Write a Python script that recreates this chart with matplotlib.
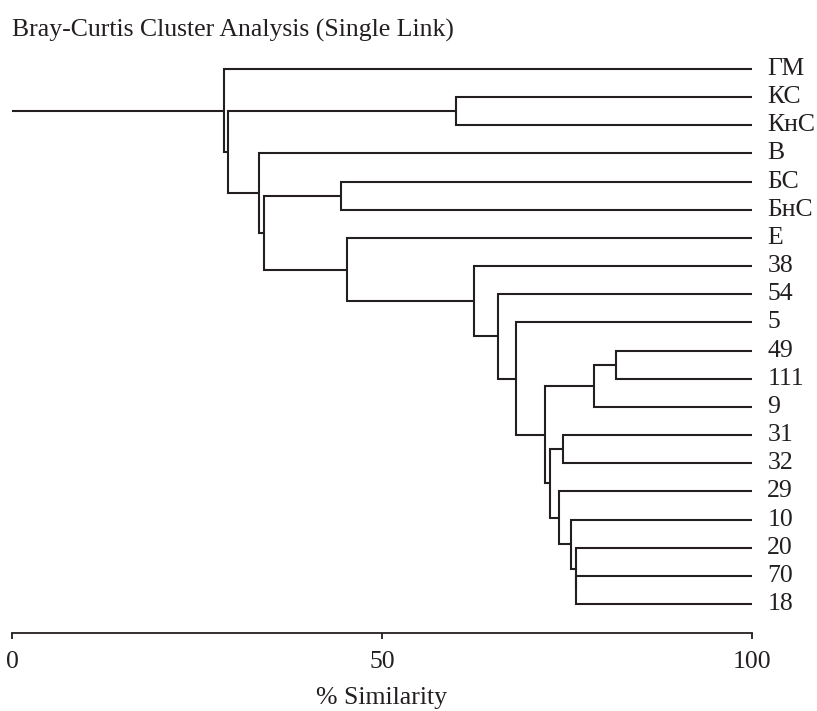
import matplotlib
import matplotlib.pyplot as plt

matplotlib.use('Agg')

plt.rcParams['font.family'] = ['Liberation Serif', 'DejaVu Serif']

# Leaf labels, top to bottom
leaves = ['ГМ', 'КС', 'КнС', 'В', 'БС', 'БнС', 'Е', '38', '54', '5',
          '49', '111', '9', '31', '32', '29', '10', '20', '70', '18']

# Merges: (child a, child b, % similarity); ids >= len(leaves) are clusters
merge_a = [10, 20, 18, 17, 16, 13, 15, 25, 21, 9, 8, 7, 1, 6, 4, 34, 3, 32, 0]
merge_b = [11, 12, 19, 22, 23, 14, 24, 26, 27, 28, 29, 30, 2, 31, 5, 33, 35, 36, 37]
merge_sim = [81.6, 78.6, 76.2, 76.2, 75.5, 74.5, 73.9, 72.7, 72.0, 68.1,
             65.7, 62.4, 60.0, 45.3, 44.5, 34.1, 33.4, 29.2, 28.6]

line_color = '#231f20'
lw = 1.5
fs = 18.5

fig = plt.figure(figsize=(8.17, 7.11), dpi=100)
W, H = 817, 711
# axes: x 0..100 spans px 12..752, y spans px 50..633
ax = fig.add_axes([12 / W, 1 - 633 / H, 740 / W, (633 - 50) / H])

n = len(leaves)
node_x = {i: 100.0 for i in range(n)}
node_y = {i: float(i) for i in range(n)}

for k, (a, b, s) in enumerate(zip(merge_a, merge_b, merge_sim)):
    nid = n + k
    ax.plot([node_x[a], s, s, node_x[b]], [node_y[a], node_y[a], node_y[b], node_y[b]],
            color=line_color, lw=lw, solid_joinstyle='miter', solid_capstyle='butt')
    node_x[nid] = s
    node_y[nid] = (node_y[a] + node_y[b]) / 2

# root stem
root = n + len(merge_sim) - 1
ax.plot([0, node_x[root]], [node_y[root], node_y[root]], color=line_color, lw=lw,
        solid_capstyle='butt')

# leaf labels
for i, name in enumerate(leaves):
    ax.annotate(name, (100, i), xytext=(11, 0), textcoords='offset points',
                va='center', ha='left', fontsize=fs, color=line_color,
                annotation_clip=False)

ax.set_xlim(0, 100)
ax.set_ylim(19 + (633 - 604) / 28.16, -(69 - 50) / 28.16)
for side in ['top', 'right', 'left']:
    ax.spines[side].set_visible(False)
ax.spines['bottom'].set_color(line_color)
ax.spines['bottom'].set_linewidth(1.3)
ax.set_yticks([])
ax.set_xticks([0, 50, 100])
ax.tick_params(axis='x', direction='out', length=4, width=1.3, color=line_color,
               labelsize=fs, labelcolor=line_color, pad=9)
ax.set_xlabel('% Similarity', fontsize=fs, color=line_color, labelpad=10)

fig.text(12 / W, 1 - 30 / H, 'Bray-Curtis Cluster Analysis (Single Link)',
         fontsize=fs, color=line_color, va='center', ha='left')

fig.savefig('out.png', dpi=100)
